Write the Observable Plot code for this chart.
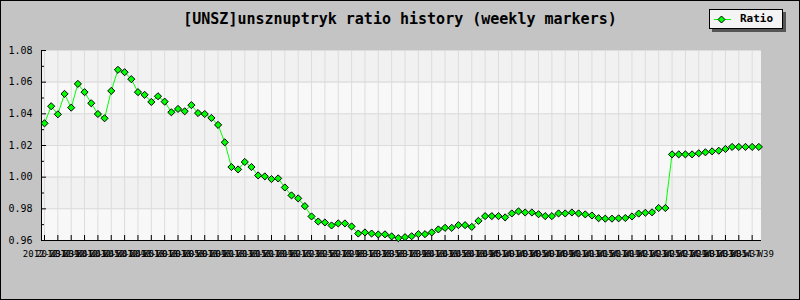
<!DOCTYPE html>
<html><head><meta charset="utf-8">
<script src="https://cdn.jsdelivr.net/npm/d3@7"></script>
<script src="https://cdn.jsdelivr.net/npm/@observablehq/plot@0.6"></script>
<style>
html,body{margin:0;padding:0;background:#c4c4c4;}
#wrap{position:relative;width:800px;height:300px;background:#c4c4c4;overflow:hidden;}
#chart{position:absolute;left:0;top:0;}
#title{position:absolute;left:0;top:10px;width:800px;text-align:center;font:bold 15px "DejaVu Sans Mono",monospace;line-height:18px;color:#000;white-space:pre;}
#legend{position:absolute;left:709px;top:9px;width:72px;height:18px;background:#f4f4f4;border:1px solid #000;box-shadow:3px 3px 0 #555;font:bold 11px "DejaVu Sans Mono",monospace;color:#000;}
#legend svg{position:absolute;left:0;top:0;}
#legend span{position:absolute;left:30px;top:2px;line-height:14px;}
#frame{position:absolute;left:0;top:0;width:800px;height:300px;box-sizing:border-box;border:1px solid #000;pointer-events:none;}
</style></head>
<body>
<div id="wrap">
  <div id="chart"></div>
  <div id="title">[UNSZ]unsznuptryk ratio history (weekly markers)</div>
  <div id="legend">
    <svg width="30" height="18"><line x1="4" y1="9.5" x2="21" y2="9.5" stroke="#00ff00" stroke-width="1"/><path d="M11.5,6 L15,9.5 L11.5,13 L8,9.5 Z" fill="#00ff00" stroke="#000" stroke-width="1"/></svg>
    <span>Ratio</span>
  </div>
  <div id="frame"></div>
</div>
<script>
const weekLabels = [
  "2012-W37","2012-W39","2012-W41","2012-W43","2012-W45","2012-W47","2012-W49","2012-W51",
  "2013-W01","2013-W03","2013-W05","2013-W07","2013-W09","2013-W11","2013-W13","2013-W15",
  "2013-W17","2013-W19","2013-W21","2013-W23","2013-W25","2013-W27","2013-W29","2013-W31",
  "2013-W33","2013-W35","2013-W37","2013-W39","2013-W41","2013-W43","2013-W45","2013-W47",
  "2013-W49","2013-W51",
  "2014-W01","2014-W03","2014-W05","2014-W07","2014-W09","2014-W11","2014-W13","2014-W15",
  "2014-W17","2014-W19","2014-W21","2014-W23","2014-W25","2014-W27","2014-W29","2014-W31",
  "2014-W33","2014-W35","2014-W37","2014-W39"
];
const ratio = [
  1.0340,1.0448,1.0397,1.0526,1.0439,1.0589,1.0537,1.0467,1.0399,1.0372,
  1.0545,1.0678,1.0663,1.0619,1.0537,1.0520,1.0475,1.0511,1.0477,1.0410,
  1.0431,1.0416,1.0455,1.0405,1.0399,1.0374,1.0330,1.0220,1.0064,1.0049,
  1.0096,1.0064,1.0011,1.0005,0.9988,0.9992,0.9935,0.9885,0.9866,0.9817,
  0.9752,0.9720,0.9714,0.9695,0.9708,0.9708,0.9689,0.9644,0.9651,0.9644,
  0.9638,0.9639,0.9626,0.9615,0.9621,0.9627,0.9640,0.9640,0.9651,0.9670,
  0.9680,0.9680,0.9697,0.9697,0.9686,0.9724,0.9754,0.9754,0.9754,0.9746,
  0.9771,0.9784,0.9777,0.9777,0.9766,0.9754,0.9754,0.9771,0.9771,0.9777,
  0.9771,0.9765,0.9758,0.9741,0.9738,0.9738,0.9740,0.9742,0.9752,0.9770,
  0.9775,0.9778,0.9805,0.9805,1.0144,1.0144,1.0144,1.0144,1.0151,1.0157,
  1.0163,1.0167,1.0178,1.0191,1.0191,1.0191,1.0191,1.0191
];
const yTicks = [0.96,0.98,1.00,1.02,1.04,1.06,1.08];
const yMinor = [0.97,0.99,1.01,1.03,1.05,1.07];
const bandLow = [0.96,0.98,1.00,1.02,1.04,1.06];
const bandHigh = [0.98,1.00,1.02,1.04,1.06,1.08];
const bandShade = ["#f8f8f8","#f1f1f1","#f8f8f8","#f1f1f1","#f8f8f8","#f1f1f1"];
const xDomain = [-0.45, 107.4];
const yDomain = [0.96, 1.08];

const data = ratio.map((v, i) => ({i, v}));
const bands = bandLow.map((y1, k) => ({y1, y2: bandHigh[k], fill: bandShade[k]}));
const xTicks = weekLabels.map((_, k) => 2 * k);

const chart = Plot.plot({
  width: 800,
  height: 300,
  marginTop: 50,
  marginRight: 39,
  marginBottom: 60,
  marginLeft: 41,
  style: {background: "transparent", fontFamily: "'DejaVu Sans Mono', monospace", fontSize: "10px", color: "#000"},
  x: {domain: xDomain},
  y: {domain: yDomain},
  marks: [
    Plot.rect(bands, {y1: "y1", y2: "y2", fill: "fill"}),
    Plot.ruleX(xTicks, {stroke: "#dcdcdc"}),
    Plot.ruleY(yTicks, {stroke: "#dcdcdc"}),
    Plot.ruleY([yDomain[0]], {stroke: "#000"}),
    Plot.ruleX([xDomain[0]], {stroke: "#000"}),
    Plot.axisY(yTicks, {tickSize: -5, tickPadding: 14, tickFormat: d => d.toFixed(2), label: null, fontSize: 10}),
    Plot.axisY(yMinor, {tickSize: -3, fill: "none", label: null}),
    Plot.axisX(xTicks, {tickSize: -5, tickPadding: 15, tickFormat: i => weekLabels[i / 2], label: null, fontSize: 9}),
    Plot.line(data, {x: "i", y: "v", stroke: "#00ff00", strokeWidth: 1}),
    Plot.dot(data, {x: "i", y: "v", symbol: "diamond2", r: 3.2, fill: "#00ff00", stroke: "#000", strokeWidth: 1})
  ]
});
document.getElementById("chart").appendChild(chart);
</script>
</body></html>
